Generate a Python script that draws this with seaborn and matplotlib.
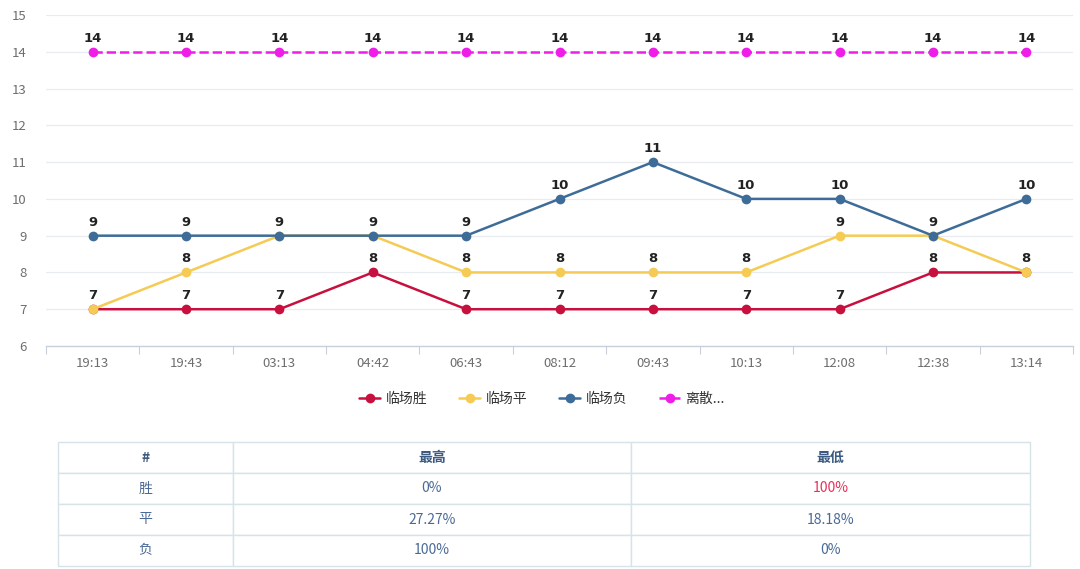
import matplotlib
matplotlib.use("Agg")
import pandas as pd
import matplotlib.pyplot as plt
import seaborn as sns

# ------------------------------------------------------------
# Datos
# ------------------------------------------------------------
times = ["19:13", "19:43", "03:13", "04:42", "06:43", "08:12",
         "09:43", "10:13", "12:08", "12:38", "13:14"]
win = [7, 7, 7, 8, 7, 7, 7, 7, 7, 8, 8]
draw = [7, 8, 9, 9, 8, 8, 8, 8, 9, 9, 8]
lose = [9, 9, 9, 9, 9, 10, 11, 10, 10, 9, 10]
disp = [14] * 11

series_names = ["临场胜", "临场平", "临场负", "离散..."]
series_colors = ["#c8103e", "#f5cb55", "#3e6c98", "#ee1ee8"]

table_header = ["#", "最高", "最低"]
table_rows = [["胜", "0%", "100%"],
              ["平", "27.27%", "18.18%"],
              ["负", "100%", "0%"]]

df = pd.DataFrame({"time": times * 4,
                   "value": win + draw + lose + disp,
                   "serie": sum([[n] * 11 for n in series_names], [])})

# ------------------------------------------------------------
# Figura
# ------------------------------------------------------------
sns.set_theme(style="white")
plt.rcParams["font.family"] = ["Noto Sans CJK SC", "DejaVu Sans"]

fig = plt.figure(figsize=(10.8, 5.69), dpi=100)
ax = fig.add_axes([46 / 1080, 1 - 346 / 569, (1073 - 46) / 1080, (346 - 15) / 569])

for name, col in zip(series_names, series_colors):
    sub = df[df["serie"] == name]
    ls = "--" if name == "离散..." else "-"
    sns.lineplot(data=sub, x="time", y="value", ax=ax, color=col, lw=1.8,
                 linestyle=ls, marker="o", markersize=7, markeredgewidth=0,
                 label=name, sort=False)

# etiquetas de valor
drawn = set()
for name in series_names[::-1]:
    sub = df[df["serie"] == name]
    for i, (t, v) in enumerate(zip(sub["time"], sub["value"])):
        if (i, v) in drawn:
            continue
        drawn.add((i, v))
        ax.annotate(str(v), (i, v), xytext=(0, 5), textcoords="offset points",
                    ha="center", va="bottom", fontsize=9.5, fontweight="bold",
                    color="#222222", family="DejaVu Sans")

ax.set_ylim(6, 15)
ax.set_yticks(range(6, 16))
ax.set_xlim(-0.5, len(times) - 0.5)
ax.set_xticks(range(len(times)))
ax.set_xticklabels(times)
ax.set_xticks([i - 0.5 for i in range(len(times) + 1)], minor=True)
ax.tick_params(axis="x", which="major", length=0, pad=8, labelsize=9.5, labelcolor="#6e6e6e")
ax.tick_params(axis="x", which="minor", length=6, width=0.8, color="#c8d0dc", direction="out", bottom=True)
ax.tick_params(axis="y", length=0, pad=14, labelsize=9.5, labelcolor="#6e6e6e")
ax.grid(axis="y", color="#e8ecf0", lw=0.9)
ax.set_xlabel("")
ax.set_ylabel("")
for s in ["top", "right", "left"]:
    ax.spines[s].set_visible(False)
ax.spines["bottom"].set_color("#c8d0dc")
ax.spines["bottom"].set_linewidth(1)

leg = ax.legend(loc="upper center", bbox_to_anchor=(0.483, -0.1), ncol=4, frameon=False,
                fontsize=10, handlelength=1.5, columnspacing=2.3, handletextpad=0.4,
                markerscale=1)
for t in leg.get_texts():
    t.set_color("#333333")
    t.set_fontweight("medium")

# ------------------------------------------------------------
# Tabla
# ------------------------------------------------------------
tax = fig.add_axes([58 / 1080, 1 - 566 / 569, (1030 - 58) / 1080, (566 - 442) / 569])
tax.axis("off")
cells = [table_header] + table_rows
tbl = tax.table(cellText=cells, bbox=[0, 0, 1, 1], cellLoc="center",
                colWidths=[175, 398, 399])
tbl.auto_set_font_size(False)
for (r, c), cell in tbl.get_celld().items():
    cell.set_edgecolor("#d6e4ea")
    cell.set_linewidth(1)
    cell.set_facecolor("white")
    txt = cell.get_text()
    txt.set_fontsize(10)
    txt.set_color("#4a6a96")
    if r == 0:
        txt.set_fontweight("bold")
        txt.set_color("#3d5a80")
tbl[(1, 2)].get_text().set_color("#ec2f5b")

fig.savefig("out.png", dpi=100)
